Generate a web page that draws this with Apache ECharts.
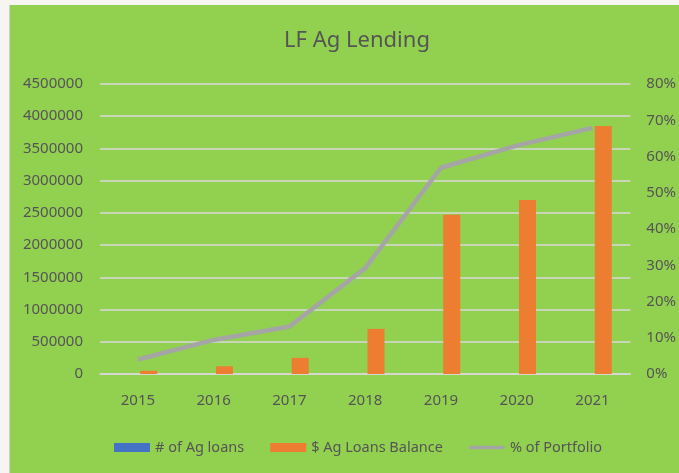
<!DOCTYPE html>
<html>
<head>
<meta charset="utf-8">
<script src="https://cdn.jsdelivr.net/npm/echarts@6/dist/echarts.min.js"></script>
<style>
  html, body { margin: 0; padding: 0; width: 679px; height: 473px; overflow: hidden; background: #f7f5f2; }
  #chart { position: absolute; left: 9px; top: 5px; width: 670px; height: 468px; background: #92d050; border-left: 1px solid #d0d0d0; box-sizing: border-box; }
</style>
</head>
<body>
<div id="chart"></div>
<script>
// 数据
var years = ['2015', '2016', '2017', '2018', '2019', '2020', '2021']
var agLoanCount = [3, 8, 15, 30, 60, 70, 90]
var agLoanBalance = [50000, 120000, 250000, 700000, 2470000, 2700000, 3850000]
var portfolioPct = [0.04, 0.094, 0.131, 0.292, 0.569, 0.63, 0.679]

var textColor = '#555555'
var fontFamily = 'Noto Sans'

var dom = echarts.init(document.getElementById('chart'))
dom.setOption({
  backgroundColor: '#92d050',
  textStyle: { fontFamily: fontFamily, color: textColor },
  title: {
    text: 'LF Ag Lending',
    left: 342,
    top: 20,
    textAlign: 'center',
    textStyle: { fontFamily: fontFamily, fontSize: 22, fontWeight: 'normal', color: textColor }
  },
  legend: {
    left: 99,
    top: 430,
    itemWidth: 36,
    itemHeight: 9,
    itemGap: 26,
    textStyle: { fontFamily: fontFamily, fontSize: 14.5, color: textColor },
    data: [
      { name: '# of Ag loans', icon: 'rect' },
      { name: '$ Ag Loans Balance', icon: 'rect' },
      // 图例里折线用细的圆头线
      { name: '% of Portfolio', icon: 'path://M2,0 H38 A2,2 0 0 1 38,4 H2 A2,2 0 0 1 2,0 Z' }
    ]
  },
  grid: { left: 90, right: 42, top: 79, bottom: 99 },
  xAxis: {
    type: 'category',
    data: years,
    axisLine: { lineStyle: { color: '#d9d9d9', width: 1.5 } },
    axisTick: { show: false },
    axisLabel: { margin: 19, fontSize: 15, color: textColor, fontFamily: fontFamily }
  },
  yAxis: [
    {
      type: 'value',
      min: 0,
      max: 4500000,
      interval: 500000,
      axisLine: { show: false },
      axisTick: { show: false },
      axisLabel: {
        margin: 17,
        fontSize: 15,
        color: textColor,
        fontFamily: fontFamily,
        formatter: function(v) { return String(v) }
      },
      splitLine: { lineStyle: { color: '#d9d9d9', width: 1.5 } }
    },
    {
      type: 'value',
      min: 0,
      max: 0.8,
      interval: 0.1,
      axisLine: { show: false },
      axisTick: { show: false },
      splitLine: { show: false },
      axisLabel: {
        margin: 16,
        fontSize: 15,
        color: textColor,
        fontFamily: fontFamily,
        formatter: function(v) { return Math.round(v * 100) + '%' }
      }
    }
  ],
  series: [
    {
      name: '# of Ag loans',
      type: 'bar',
      data: agLoanCount,
      barWidth: 17,
      barGap: '27%',
      itemStyle: { color: '#4472c4' }
    },
    {
      name: '$ Ag Loans Balance',
      type: 'bar',
      data: agLoanBalance,
      barWidth: 17,
      barGap: '27%',
      itemStyle: { color: '#ed7d31' }
    },
    {
      name: '% of Portfolio',
      type: 'line',
      yAxisIndex: 1,
      data: portfolioPct,
      symbol: 'none',
      lineStyle: { color: '#a5a5a5', width: 4.5 },
      itemStyle: { color: '#a5a5a5' }
    }
  ]
})
</script>
</body>
</html>
